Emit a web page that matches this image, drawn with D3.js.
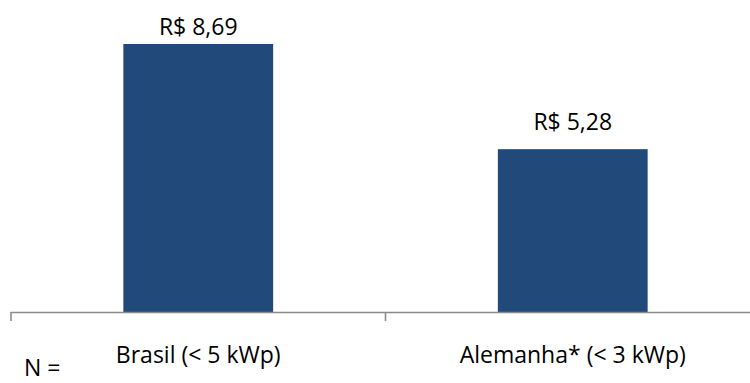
<!DOCTYPE html>
<html>
<head>
<meta charset="utf-8">
<script src="https://cdn.jsdelivr.net/npm/d3@7"></script>
<style>
  html, body { margin: 0; padding: 0; background: #fff; }
  svg text { font-family: "Open Sans", Lato, sans-serif; fill: #000; }
</style>
</head>
<body>
<svg id="chart" width="750" height="383"></svg>
<script>
// Categories and values (R$)
const categories = ["Brasil (< 5 kWp)", "Alemanha* (< 3 kWp)"];
const values = [8.69, 5.28];
const valueLabels = ["R$ 8,69", "R$ 5,28"];
const nLabel = "N =";

const W = 750, H = 383;
const baseline = 312;
const barColor = "#214a7b";
const fontSize = 23;

const svg = d3.select("#chart");

const x = d3.scaleBand()
  .domain(categories)
  .range([11, 760])
  .paddingInner(0.6)
  .paddingOuter(0.3);

const y = d3.scaleLinear()
  .domain([0, 10])
  .range([baseline, baseline - 308.4]);

// bars
svg.selectAll("rect.bar")
  .data(values)
  .join("rect")
  .attr("class", "bar")
  .attr("x", (d, i) => x(categories[i]))
  .attr("width", x.bandwidth())
  .attr("y", d => y(d))
  .attr("height", d => baseline - y(d))
  .attr("fill", barColor);

// value labels above bars
const labelGap = [9, 19];
svg.selectAll("text.val")
  .data(values)
  .join("text")
  .attr("class", "val")
  .attr("x", (d, i) => x(categories[i]) + x.bandwidth() / 2)
  .attr("y", (d, i) => y(d) - labelGap[i])
  .attr("text-anchor", "middle")
  .attr("font-size", fontSize)
  .text((d, i) => valueLabels[i]);

// category axis
const axisColor = "#8c8c8c";
const r = x.range();
svg.append("line")
  .attr("x1", r[0]).attr("x2", r[1])
  .attr("y1", baseline + 0.5).attr("y2", baseline + 0.5)
  .attr("stroke", axisColor).attr("stroke-width", 1.6);

const tickXs = d3.range(categories.length + 1).map(i => r[0] + i * x.step());
svg.selectAll("line.tick")
  .data(tickXs)
  .join("line")
  .attr("class", "tick")
  .attr("x1", d => d).attr("x2", d => d)
  .attr("y1", baseline).attr("y2", baseline + 9)
  .attr("stroke", axisColor).attr("stroke-width", 1.6);

svg.selectAll("text.cat")
  .data(categories)
  .join("text")
  .attr("class", "cat")
  .attr("x", d => x(d) + x.bandwidth() / 2)
  .attr("y", 363)
  .attr("text-anchor", "middle")
  .attr("font-size", fontSize)
  .text(d => d);

svg.append("text")
  .attr("x", 24)
  .attr("y", 376)
  .attr("font-size", fontSize)
  .text(nLabel);
</script>
</body>
</html>
